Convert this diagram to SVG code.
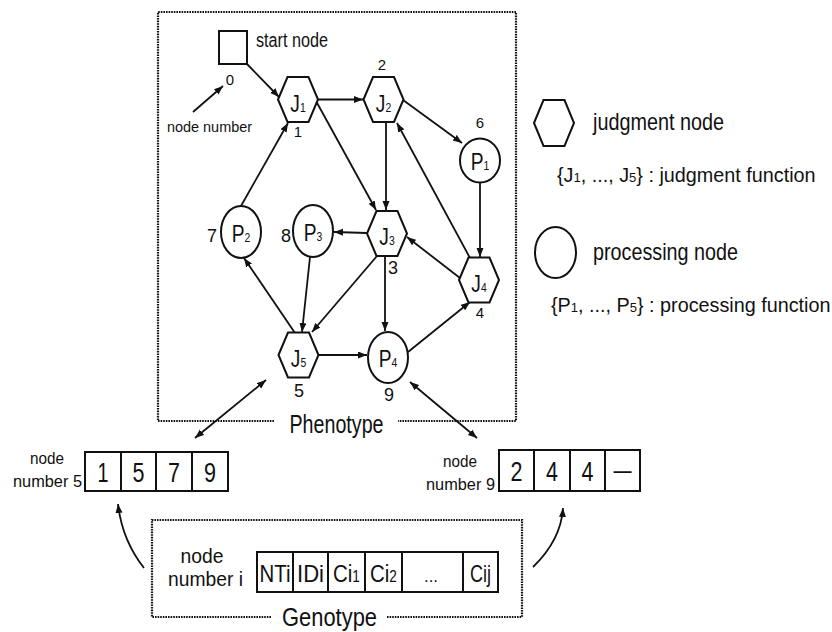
<svg xmlns="http://www.w3.org/2000/svg" xmlns:xlink="http://www.w3.org/1999/xlink" width="832" height="632" viewBox="0 0 832 632">
<style>
text{font-family:"Liberation Sans",Arial,Helvetica,sans-serif;fill:#111}
.shape{fill:#fff;stroke:#111;stroke-width:2}
.edge{fill:none;stroke:#111;stroke-width:1.8;marker-end:url(#ah)}
.dbl{marker-start:url(#ah2)}
.box{fill:none;stroke:#111;stroke-width:2.2;stroke-dasharray:1.6 1}
.cell{fill:#fff;stroke:#111;stroke-width:2}
.lbl{font-size:24px}
.sub{font-size:13px}
.num{font-size:15px}
.num2{font-size:18px}
.big{font-size:26px}
.dig{font-size:27px}
.mid{font-size:21px}
.leg{font-size:19.8px}
.sm{font-size:17px}
</style>
<defs>
<marker id="ah" markerUnits="userSpaceOnUse" markerWidth="10" markerHeight="8" refX="9" refY="3.5" orient="auto"><path d="M0,0 L9,3.5 L0,7 z" fill="#111"/></marker>
<marker id="ah2" markerUnits="userSpaceOnUse" markerWidth="10" markerHeight="8" refX="9" refY="3.5" orient="auto-start-reverse"><path d="M0,0 L9,3.5 L0,7 z" fill="#111"/></marker>
<polygon id="hex" points="-20,0 -10.5,-22.5 10.5,-22.5 20,0 10.5,22.5 -10.5,22.5"/>
</defs>

<!-- frames -->
<g id="phenotype-frame">
<path class="box" d="M274,421 L158,421 L158,12 L516,12 L516,421 L398,421"/>
<text x="336.5" y="433" class="big" text-anchor="middle" textLength="94" lengthAdjust="spacingAndGlyphs">Phenotype</text>
</g>
<g id="genotype-frame">
<path class="box" d="M271,617 L152,617 L152,520 L522,520 L522,617 L387,617"/>
<text x="329.5" y="626" class="big" text-anchor="middle" textLength="95" lengthAdjust="spacingAndGlyphs">Genotype</text>
</g>

<!-- connectors -->
<g id="connectors">
<path class="edge" d="M247,64 L279,97"/>
<path class="edge" d="M193,112 L223,86"/>
<path class="edge" d="M318,99.5 L363,99.5"/>
<path class="edge" d="M316,101 L376,210"/>
<path class="edge" d="M386,122 L386,210"/>
<path class="edge" d="M403,100 L462,143"/>
<path class="edge" d="M480,182.5 L480,257"/>
<path class="edge" d="M470,258 L397,123"/>
<path class="edge" d="M460,278 L407,237"/>
<path class="edge" d="M408,352 L470,302"/>
<path class="edge" d="M367,233 L334,232"/>
<path class="edge" d="M385,256 L385,331"/>
<path class="edge" d="M377,256 L312,332"/>
<path class="edge" d="M310,257 L302,332"/>
<path class="edge" d="M295,333 L244,258"/>
<path class="edge" d="M241,206 L288,123"/>
<path class="edge" d="M318,355 L367,355"/>
<path class="edge dbl" d="M195,438 L266,380"/>
<path class="edge dbl" d="M410,382 L477,438"/>
<path class="edge" d="M144,568 Q122,540 118,504"/>
<path class="edge" d="M533,567 Q561,540 563,508"/>
</g>

<!-- nodes -->
<g id="node-start">
<rect class="shape" x="219" y="31" width="28" height="33"/>
<text x="256" y="47" style="font-size:20px" textLength="72" lengthAdjust="spacingAndGlyphs">start node</text>
<text x="230" y="85" class="num" text-anchor="middle">0</text>
<text x="167" y="132" style="font-size:15.5px" textLength="85" lengthAdjust="spacingAndGlyphs">node number</text>
</g>
<g id="node-J1">
<use href="#hex" class="shape" transform="translate(298,99.5)"/>
<text transform="translate(298,111.5) scale(0.8,1)" class="lbl" text-anchor="middle">J<tspan class="sub">1</tspan></text>
<text x="298" y="137" class="num" text-anchor="middle">1</text>
</g>
<g id="node-J2">
<use href="#hex" class="shape" transform="translate(383.5,99.5)"/>
<text transform="translate(383.5,111.5) scale(0.8,1)" class="lbl" text-anchor="middle">J<tspan class="sub">2</tspan></text>
<text x="382" y="70" class="num" text-anchor="middle">2</text>
</g>
<g id="node-J3">
<use href="#hex" class="shape" transform="translate(387,233.5)"/>
<text transform="translate(387,245) scale(0.8,1)" class="lbl" text-anchor="middle">J<tspan class="sub">3</tspan></text>
<text x="393" y="274" class="num2" text-anchor="middle">3</text>
</g>
<g id="node-J4">
<use href="#hex" class="shape" transform="translate(479,280)"/>
<text transform="translate(479,291.5) scale(0.8,1)" class="lbl" text-anchor="middle">J<tspan class="sub">4</tspan></text>
<text x="480" y="318" class="num" text-anchor="middle">4</text>
</g>
<g id="node-J5">
<use href="#hex" class="shape" transform="translate(298.5,355)"/>
<text transform="translate(298.5,366.5) scale(0.8,1)" class="lbl" text-anchor="middle">J<tspan class="sub">5</tspan></text>
<text x="299" y="397" class="num2" text-anchor="middle">5</text>
</g>
<g id="node-P1">
<ellipse class="shape" cx="480" cy="160.5" rx="20" ry="22"/>
<text transform="translate(480,169.5) scale(0.8,1)" class="lbl" text-anchor="middle">P<tspan class="sub">1</tspan></text>
<text x="480" y="128" class="num" text-anchor="middle">6</text>
</g>
<g id="node-P2">
<ellipse class="shape" cx="241" cy="232" rx="20" ry="26"/>
<text transform="translate(241,242) scale(0.8,1)" class="lbl" text-anchor="middle">P<tspan class="sub">2</tspan></text>
<text x="212" y="242" class="num2" text-anchor="middle">7</text>
</g>
<g id="node-P3">
<ellipse class="shape" cx="313" cy="231" rx="20" ry="26"/>
<text transform="translate(313,241) scale(0.8,1)" class="lbl" text-anchor="middle">P<tspan class="sub">3</tspan></text>
<text x="286" y="242" class="num2" text-anchor="middle">8</text>
</g>
<g id="node-P4">
<ellipse class="shape" cx="388" cy="357.5" rx="20" ry="25.5"/>
<text transform="translate(388,367) scale(0.8,1)" class="lbl" text-anchor="middle">P<tspan class="sub">4</tspan></text>
<text x="389" y="401" class="num2" text-anchor="middle">9</text>
</g>

<!-- legend -->
<g id="legend-judgment">
<use href="#hex" class="shape" transform="translate(554,123) scale(1,1.02)"/>
<text x="593" y="130" class="lbl" textLength="131" lengthAdjust="spacingAndGlyphs">judgment node</text>
<text x="557" y="182" class="leg">{J<tspan class="sub">1</tspan>, ..., J<tspan class="sub">5</tspan>} : judgment function</text>
</g>
<g id="legend-processing">
<ellipse class="shape" cx="555.5" cy="252.5" rx="20.5" ry="25.5"/>
<text x="593" y="260" class="lbl" textLength="145" lengthAdjust="spacingAndGlyphs">processing node</text>
<text x="551" y="312" class="leg">{P<tspan class="sub">1</tspan>, ..., P<tspan class="sub">5</tspan>} : processing function</text>
</g>

<!-- node number 5 -->
<g id="gene-node5">
<text x="47" y="464" class="sm" text-anchor="middle" textLength="34" lengthAdjust="spacingAndGlyphs">node</text>
<text x="13" y="487" class="sm" textLength="69" lengthAdjust="spacingAndGlyphs">number 5</text>
<rect class="cell" x="85" y="452" width="36" height="39"/>
<rect class="cell" x="121" y="452" width="35" height="39"/>
<rect class="cell" x="156" y="452" width="36" height="39"/>
<rect class="cell" x="192" y="452" width="36" height="39"/>
<text x="103" y="482" class="dig" text-anchor="middle" textLength="11" lengthAdjust="spacingAndGlyphs">1</text>
<text x="138.5" y="482" class="dig" text-anchor="middle" textLength="12" lengthAdjust="spacingAndGlyphs">5</text>
<text x="174" y="482" class="dig" text-anchor="middle" textLength="12" lengthAdjust="spacingAndGlyphs">7</text>
<text x="210" y="482" class="dig" text-anchor="middle" textLength="12" lengthAdjust="spacingAndGlyphs">9</text>
</g>

<!-- node number 9 -->
<g id="gene-node9">
<text x="460" y="467" class="sm" text-anchor="middle" textLength="34" lengthAdjust="spacingAndGlyphs">node</text>
<text x="426" y="490" class="sm" textLength="69" lengthAdjust="spacingAndGlyphs">number 9</text>
<rect class="cell" x="499" y="450" width="35" height="41"/>
<rect class="cell" x="534" y="450" width="36" height="41"/>
<rect class="cell" x="570" y="450" width="35" height="41"/>
<rect class="cell" x="605" y="450" width="35" height="41"/>
<text x="516.5" y="481" class="dig" text-anchor="middle" textLength="12" lengthAdjust="spacingAndGlyphs">2</text>
<text x="552" y="481" class="dig" text-anchor="middle" textLength="12" lengthAdjust="spacingAndGlyphs">4</text>
<text x="587.5" y="481" class="dig" text-anchor="middle" textLength="12" lengthAdjust="spacingAndGlyphs">4</text>
<text x="622.5" y="479" class="big" text-anchor="middle" textLength="18" lengthAdjust="spacingAndGlyphs">—</text>
</g>

<!-- genotype -->
<g id="gene-nodei">
<text x="202" y="563" class="mid" text-anchor="middle" textLength="43" lengthAdjust="spacingAndGlyphs">node</text>
<text x="168" y="586" class="mid" textLength="75" lengthAdjust="spacingAndGlyphs">number i</text>
<rect class="cell" x="257" y="552" width="36" height="40"/>
<rect class="cell" x="293" y="552" width="35" height="40"/>
<rect class="cell" x="328" y="552" width="37" height="40"/>
<rect class="cell" x="365" y="552" width="37" height="40"/>
<rect class="cell" x="402" y="552" width="61" height="40"/>
<rect class="cell" x="463" y="552" width="35" height="40"/>
<text x="275" y="582" class="lbl" text-anchor="middle" textLength="31" lengthAdjust="spacingAndGlyphs">NTi</text>
<text x="310.5" y="582" class="lbl" text-anchor="middle" textLength="27" lengthAdjust="spacingAndGlyphs">IDi</text>
<text transform="translate(346.5,582) scale(0.85,1)" class="lbl" text-anchor="middle">Ci<tspan style="font-size:16px">1</tspan></text>
<text transform="translate(383.5,582) scale(0.85,1)" class="lbl" text-anchor="middle">Ci<tspan style="font-size:16px">2</tspan></text>
<text x="431" y="582" class="sm" text-anchor="middle">...</text>
<text x="480.5" y="582" class="lbl" text-anchor="middle" textLength="21" lengthAdjust="spacingAndGlyphs">Cij</text>
</g>
</svg>
